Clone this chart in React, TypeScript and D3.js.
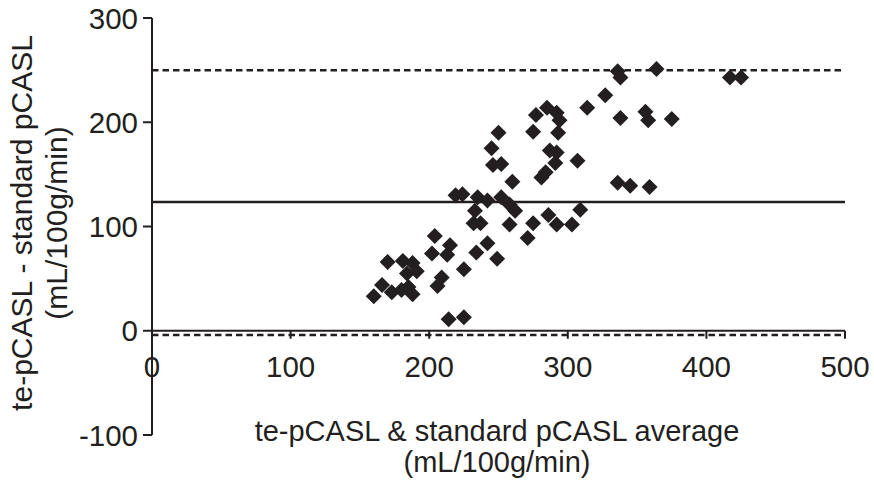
import React from "react";
import * as d3 from "d3";

const avgValues = [
  160, 166, 170, 173, 180, 181, 184, 185, 188, 188, 191, 202, 204, 206, 209, 213, 215, 214, 225, 225,
  219, 224, 232, 237, 233, 235, 242, 234, 242, 249, 252, 258, 262, 258, 260, 271, 275, 286, 292, 303,
  309, 245, 246, 252, 250, 275, 293, 277, 285, 292, 294, 287, 292, 291, 284, 281, 307, 314, 327, 336,
  338, 364, 417, 425, 338, 356, 358, 375, 336, 345, 359,
];
const diffValues = [
  33, 44, 66, 37, 39, 67, 55, 42, 65, 35, 57, 74, 91, 43, 51, 73, 82, 11, 13, 59,
  130, 131, 103, 103, 115, 128, 125, 75, 84, 69, 128, 121, 115, 102, 143, 89, 103, 111, 102, 102,
  116, 175, 159, 160, 190, 191, 190, 207, 214, 209, 202, 173, 171, 161, 152, 147, 163, 214, 226, 249,
  243, 251, 243, 243, 204, 210, 202, 203, 142, 139, 138,
];
const meanDiff = [123.5];
const limits = [250, -4];
const xTicks = [0, 100, 200, 300, 400, 500];
const yTicks = [-100, 0, 100, 200, 300];
const xTitle = ["te-pCASL & standard pCASL average", "(mL/100g/min)"];
const yTitle = ["te-pCASL - standard pCASL", "(mL/100g/min)"];

const W = 874;
const H = 483;
const INK = "#231f20";
const FONT = "'Liberation Sans', Arial, Helvetica, sans-serif";

export default function App() {
  const x = d3.scaleLinear().domain([0, 500]).range([152, 845]);
  const y = d3.scaleLinear().domain([-100, 300]).range([435, 18]);
  const x0 = x(0);
  const y0 = y(0);
  const r = 8;
  const diamond = (cx: number, cy: number) =>
    `M${cx},${cy - r}L${cx + r},${cy}L${cx},${cy + r}L${cx - r},${cy}Z`;

  return (
    <svg
      width={W}
      height={H}
      viewBox={`0 0 ${W} ${H}`}
      style={{ position: "absolute", left: 0, top: 0, background: "#fff" }}
    >
      <rect x={0} y={0} width={W} height={H} fill="#fff" />
      {/* y axis */}
      <line x1={x0} x2={x0} y1={y(-100)} y2={y(300)} stroke={INK} strokeWidth={2} />
      {yTicks.map((t) => (
        <g key={"y" + t}>
          <line x1={x0 - 9} x2={x0} y1={y(t)} y2={y(t)} stroke={INK} strokeWidth={2} />
          <text
            x={x0 - 14}
            y={y(t)}
            dy="0.36em"
            textAnchor="end"
            fontFamily={FONT}
            fontSize={29.5}
            fill={INK}
          >
            {t}
          </text>
        </g>
      ))}
      {/* x axis */}
      <line x1={x0} x2={x(500)} y1={y0} y2={y0} stroke={INK} strokeWidth={2} />
      {xTicks.map((t) => (
        <g key={"x" + t}>
          <line x1={x(t)} x2={x(t)} y1={y0} y2={y0 + 8} stroke={INK} strokeWidth={2} />
          <text
            x={x(t)}
            y={y0 + 46}
            textAnchor="middle"
            fontFamily={FONT}
            fontSize={29.5}
            fill={INK}
          >
            {t}
          </text>
        </g>
      ))}
      {/* mean line */}
      {meanDiff.map((m) => (
        <line key="mean" x1={x0} x2={x(500)} y1={y(m)} y2={y(m)} stroke={INK} strokeWidth={2.5} />
      ))}
      {/* limits of agreement */}
      {limits.map((l) => (
        <line
          key={"l" + l}
          x1={x0}
          x2={x(500)}
          y1={y(l)}
          y2={y(l)}
          stroke={INK}
          strokeWidth={2.5}
          strokeDasharray="6.5,4"
        />
      ))}
      {/* points */}
      {avgValues.map((a, i) => (
        <path key={"p" + i} d={diamond(x(a), y(diffValues[i]))} fill={INK} />
      ))}
      {/* x title */}
      {xTitle.map((s, i) => (
        <text
          key={"xt" + i}
          x={497}
          y={441 + i * 31}
          textAnchor="middle"
          fontFamily={FONT}
          fontSize={29}
          fill={INK}
        >
          {s}
        </text>
      ))}
      {/* y title */}
      {yTitle.map((s, i) => (
        <text
          key={"yt" + i}
          transform={`translate(${32 + i * 35},223) rotate(-90)`}
          textAnchor="middle"
          fontFamily={FONT}
          fontSize={30}
          fill={INK}
        >
          {s}
        </text>
      ))}
    </svg>
  );
}
